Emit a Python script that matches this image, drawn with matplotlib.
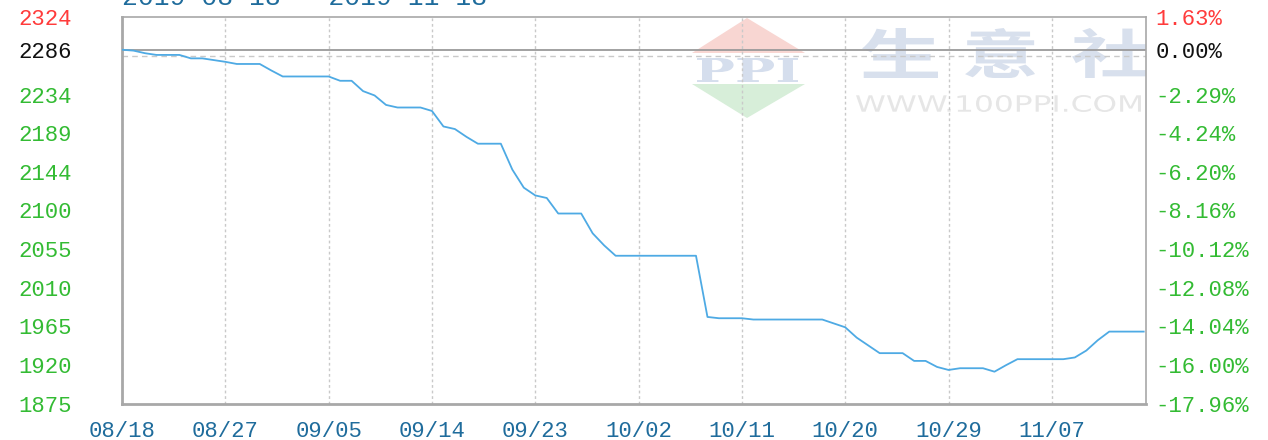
import matplotlib
matplotlib.use("Agg")
import matplotlib.pyplot as plt
from matplotlib.patches import Polygon, PathPatch
from matplotlib.ticker import FixedLocator
from matplotlib.textpath import TextPath
from matplotlib.font_manager import FontProperties
from matplotlib.transforms import Affine2D

# ---------------- data ----------------
day_index = list(range(90))  # days since 2019-08-18
prices = [
    2286, 2285, 2282, 2280, 2280, 2280, 2276, 2276, 2274, 2272,
    2269.5, 2269.5, 2269.5, 2262, 2255, 2255, 2255, 2255, 2255, 2250,
    2250, 2238, 2233, 2222, 2219, 2219, 2219, 2215, 2197, 2194,
    2185, 2177, 2177, 2177, 2147, 2126, 2117, 2114, 2096, 2096,
    2096, 2073, 2059, 2047, 2047, 2047, 2047, 2047, 2047, 2047,
    2047, 1976, 1974.5, 1974.5, 1974.5, 1973, 1973, 1973, 1973, 1973,
    1973, 1973, 1968.5, 1964, 1952, 1943, 1934, 1934, 1934, 1925,
    1925, 1918, 1914.5, 1916.5, 1916.5, 1916.5, 1912.5, 1920, 1927, 1927,
    1927, 1927, 1927, 1929, 1937, 1949, 1959, 1959, 1959, 1959,
]
x_tick_days = [0, 9, 18, 27, 36, 45, 54, 63, 72, 81]
x_tick_labels = ["08/18", "08/27", "09/05", "09/14", "09/23",
                 "10/02", "10/11", "10/20", "10/29", "11/07"]
base_price = 2286
grid_levels = [1875, 1920, 1965, 2010, 2055, 2100, 2144, 2189, 2234, 2279, 2324]
left_tick_values = [1875, 1920, 1965, 2010, 2055, 2100, 2144, 2189, 2234, 2286, 2324]
left_tick_labels = ["1875", "1920", "1965", "2010", "2055", "2100",
                    "2144", "2189", "2234", "2286", "2324"]
right_tick_labels = ["-17.96%", "-16.00%", "-14.04%", "-12.08%", "-10.12%", "-8.16%",
                     "-6.20%", "-4.24%", "-2.29%", "0.00%", "1.63%"]
title_text = "2019-08-18 - 2019-11-18"
wm_chars = ["生", "意", "社"]
wm_url = "WWW.100PPI.COM"
wm_logo = "PPI"

# ---------------- style ----------------
W, H = 1268, 440
FONT = "Liberation Mono"
UP, FLAT, DOWN = "#ff3b3b", "#111111", "#33bb33"
DATE_C = "#1f6c9c"
LINE_C = "#4eaae4"
GRID_C = "#c9c9c9"
SPINE_C = "#a8a8a8"

fig = plt.figure(figsize=(W / 100, H / 100), dpi=100)
L, R, T, B = 122, 1146, 17, 404
ax = fig.add_axes([L / W, 1 - B / H, (R - L) / W, (B - T) / H])
ax.set_zorder(2)
ax.set_xlim(0, 89.2)
ax.set_ylim(grid_levels[0], grid_levels[-1])


def fit_text(s, box, prop, color):
    """Draw text s stretched to fill pixel box (x0, y0, x1, y1), y from top."""
    x0, y0, x1, y1 = box
    tp = TextPath((0, 0), s, size=50, prop=prop)
    ext = tp.get_extents()
    sx = (x1 - x0) / ext.width
    sy = (y1 - y0) / ext.height
    trf = (Affine2D().translate(-ext.x0, -ext.y0).scale(sx, sy)
           .translate(x0, H - y1))
    patch = PathPatch(tp, transform=trf, facecolor=color, edgecolor="none", zorder=0)
    patch.set_clip_path(ax.patch)
    fig.add_artist(patch)


# watermark (pixel boxes), drawn beneath the transparent axes
px2d = Affine2D().scale(1, -1).translate(0, H)
fig.add_artist(Polygon([(747, 18), (692, 53), (805, 53)], closed=True, transform=px2d,
                       facecolor="#f8d6d2", edgecolor="none", zorder=0))
fig.add_artist(Polygon([(692, 84), (805, 84), (747, 118)], closed=True, transform=px2d,
                       facecolor="#d7eed9", edgecolor="none", zorder=0))
fit_text(wm_logo, (697, 58, 798, 82),
         FontProperties(family="DejaVu Serif", weight="bold"), "#d5deed")
cjk = FontProperties(family="Noto Sans CJK SC", weight="bold")
for ch, bx in zip(wm_chars, [(862, 28, 938, 78), (965, 28, 1035, 78), (1072, 28, 1150, 78)]):
    fit_text(ch, bx, cjk, "#d8e0ed")
fit_text(wm_url, (856, 95, 1141, 112), FontProperties(family="DejaVu Sans"), "#e6e6e6")

ax.patch.set_alpha(0)

# grid
ax.yaxis.set_minor_locator(FixedLocator(grid_levels))
ax.grid(axis="y", which="minor", color=GRID_C, linestyle=(0, (4, 3)), linewidth=1.0, zorder=1)
ax.set_xticks(x_tick_days)
ax.grid(axis="x", which="major", color=GRID_C, linestyle=(0, (2, 2)), linewidth=1.0, zorder=1)
ax.set_axisbelow(True)

# baseline
ax.axhline(base_price, color="#9a9a9a", linewidth=1.3, zorder=2)

# series
ax.plot(day_index, prices, color=LINE_C, linewidth=1.3, zorder=3)

# spines
for s in ax.spines.values():
    s.set_color(SPINE_C)
    s.set_linewidth(1.2)
ax.spines["left"].set_linewidth(2)
ax.spines["bottom"].set_linewidth(2)

# x ticks
ax.set_xticklabels(x_tick_labels, fontsize=16, family=FONT, color=DATE_C)
ax.tick_params(axis="x", which="both", length=0, pad=12)

# left ticks
ax.set_yticks(left_tick_values)
ax.set_yticklabels(left_tick_labels, fontsize=16, family=FONT)
ax.tick_params(axis="y", which="both", length=0, pad=36)


def tick_color(v):
    if v > base_price:
        return UP
    if v == base_price:
        return FLAT
    return DOWN


for lab, v in zip(ax.get_yticklabels(), left_tick_values):
    lab.set_color(tick_color(v))

# right ticks
ax2 = ax.twinx()
ax2.set_zorder(3)
ax2.set_ylim(ax.get_ylim())
ax2.set_yticks(left_tick_values)
ax2.set_yticklabels(right_tick_labels, fontsize=16, family=FONT)
ax2.tick_params(axis="y", length=0, pad=7)
for lab, v in zip(ax2.get_yticklabels(), left_tick_values):
    lab.set_color(tick_color(v))
for s in ax2.spines.values():
    s.set_visible(False)
ax2.patch.set_alpha(0)

# title (cut at top, as in the reference)
fig.text(L / W, 1 - 5 / H, title_text, ha="left", va="baseline",
         fontsize=19, family=FONT, color=DATE_C)

fig.savefig("out.png", dpi=100)
